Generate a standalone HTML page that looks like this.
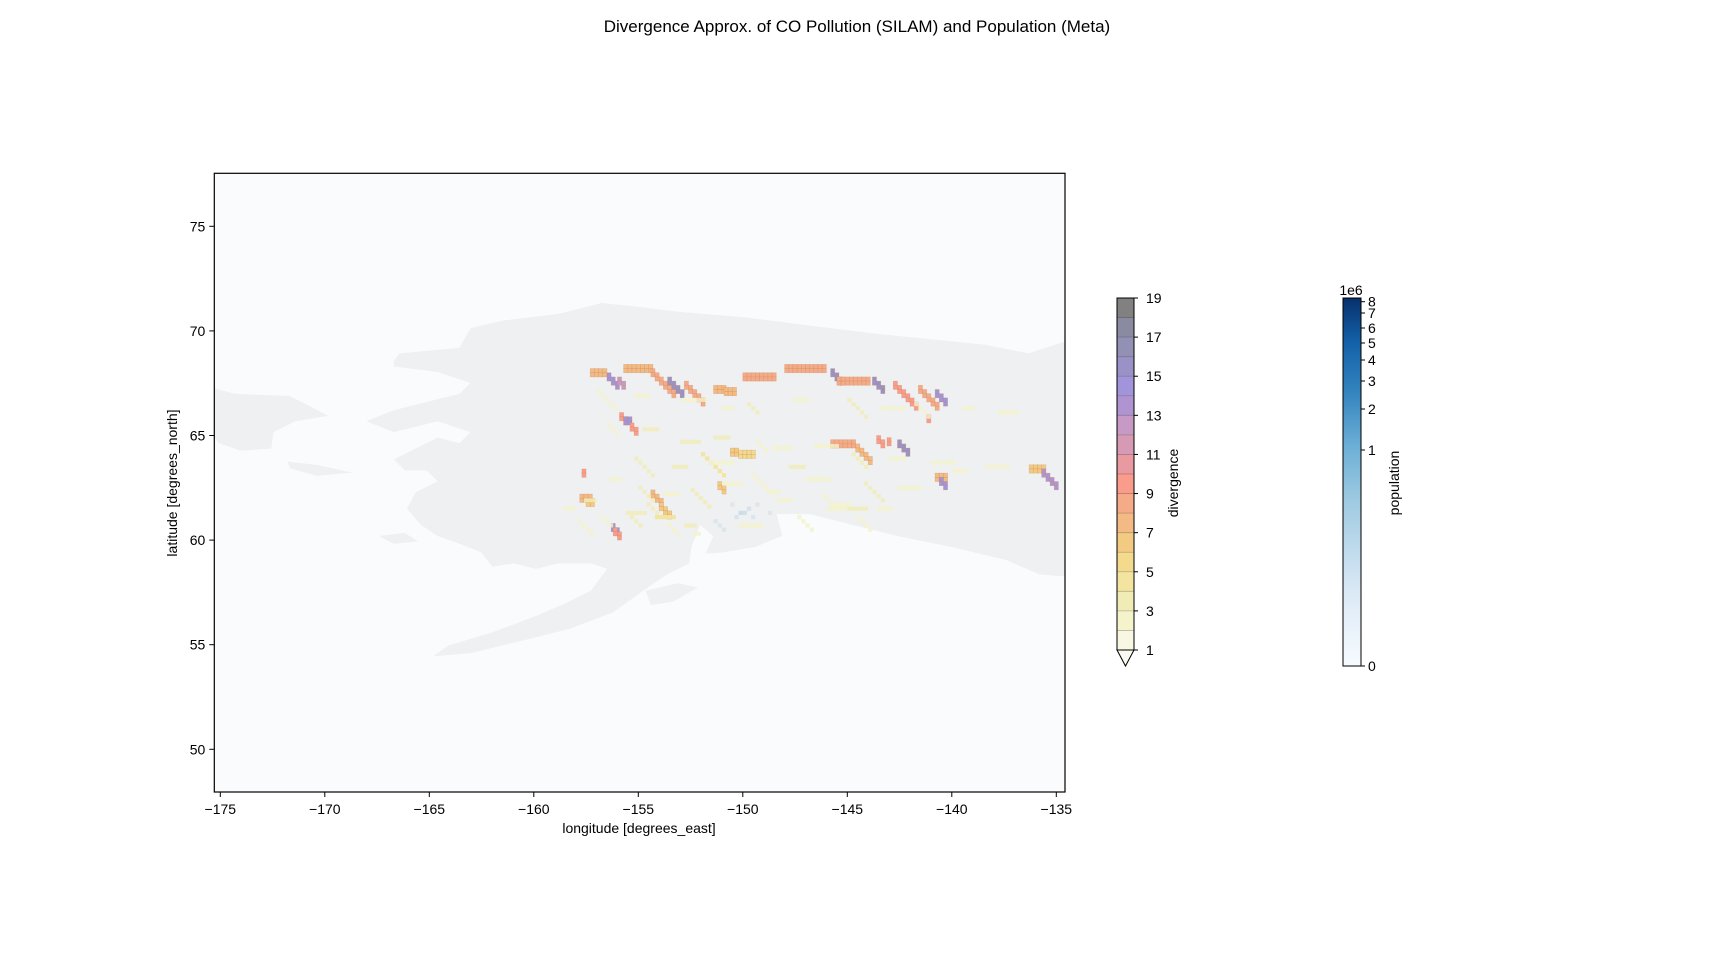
<!DOCTYPE html>
<html><head><meta charset="utf-8"><style>
html,body{margin:0;padding:0;background:#fff;}
svg{display:block;font-family:"Liberation Sans","DejaVu Sans",sans-serif;}
</style></head><body>
<svg id="fig" width="1713" height="955" viewBox="0 0 1713 955" xmlns="http://www.w3.org/2000/svg">
<text x="857" y="32" font-size="17" text-anchor="middle">Divergence Approx. of CO Pollution (SILAM) and Population (Meta)</text>
<g id="axes"></g>
<g id="cbar1"></g>
<g id="cbar2"></g>
</svg>
<script>
// ---- data ----
const xTicks = [-175,-170,-165,-160,-155,-150,-145,-140,-135];
const yTicks = [50,55,60,65,70,75];
const divLevels = [1,2,3,4,5,6,7,8,9,10,11,12,13,14,15,16,17,18,19];
const divTickLabels = [1,3,5,7,9,11,13,15,17,19];
const divColors = ["#f7f7e4","#f4f3cc","#f1ecb6","#f3e4a0","#f3da8c","#f3ca82","#f3ba84","#f5aa88","#f99c8c","#e99aa0","#d79ab4","#c69ac4","#b094d2","#a294da","#9a92c6","#9290b4","#8a8aa0","#818181"];
const popTickVals = [0,1,2,3,4,5,6,7,8];
const popTickLabels = ["0","1","2","3","4","5","6","7","8"];
// divergence cells as runs: start lon, start lat, number of cells, lat step per cell, value
const runLon = [-157.3,-156.5,-156.0,-155.7,-154.4,-153.6,-152.8,-151.4,-150.9,-150.0,-148.0,-145.8,-145.5,-143.8,-142.8,-141.6,-140.8,-155.9,-155.7,-155.4,-145.8,-144.6,-143.6,-142.6,-141.2,-140.8,-140.6,-136.3,-135.7,-157.8,-157.5,-156.3,-156.2,-154.4,-154.0,-157.7,-150.2,-150.6,-143.1,-151.2,
 -157.0,-155.2,-152.9,-151.0,-149.8,-147.6,-145.0,-143.4,-141.8,-139.5,-137.8,-156.5,-154.8,-153.0,-152.0,-151.4,-149.4,-148.6,-146.6,-144.8,-143.0,-141.0,-155.2,-153.4,-151.6,-149.6,-147.8,-147.0,-144.2,-142.6,-156.4,-155.0,-153.8,-152.5,-151.0,-148.8,-146.2,-145.0,-140.0,-138.4,-157.6,-155.6,-154.2,-152.8,-150.2,-147.4,-145.8,-143.6,-158.6,-157.9,-156.8,-155.4,-154.6,-153.6,-152.4,-148.4,-146.0,-144.6,-142.0,-139.8];
const runLat = [68.0,67.8,67.6,68.2,68.0,67.6,67.4,67.2,67.1,67.8,68.2,68.0,67.6,67.6,67.4,67.2,67.0,65.9,65.7,65.4,64.6,64.4,64.8,64.6,65.8,63.0,62.8,63.4,63.2,62.0,61.8,60.6,60.4,62.2,61.6,63.2,64.1,64.2,64.7,62.6,
 67.0,66.8,66.6,66.2,66.4,66.6,66.6,66.2,66.4,66.2,66.0,65.4,65.2,64.6,64.0,64.8,64.6,64.3,64.4,64.0,63.8,63.6,63.8,63.4,63.6,63.0,63.4,62.8,62.6,62.4,62.8,62.4,62.1,62.3,62.6,62.2,62.0,61.4,63.2,63.4,61.8,61.2,61.0,60.6,60.6,61.0,61.6,61.4,61.4,60.8,61.0,61.2,61.6,60.6,60.2,61.8,61.4,61.0,62.2,62.4];
const runN = [4,3,2,7,6,4,5,3,3,8,10,3,8,3,6,5,3,2,2,2,6,4,2,3,1,3,2,4,4,3,2,2,2,3,3,1,4,2,1,2,
 5,4,6,3,3,4,5,6,4,3,5,3,4,5,6,4,3,5,6,4,4,6,5,4,6,5,4,6,5,6,3,4,4,5,5,3,4,5,4,6,3,4,5,3,6,4,5,4,3,4,3,4,3,3,2,4,5,4,3,4];
const runDLat = [0,-0.2,-0.2,0,-0.2,-0.2,-0.2,0,0,0,0,-0.2,0,-0.2,-0.2,-0.2,-0.2,-0.2,0,-0.2,0,-0.2,-0.2,-0.2,-0.2,0,-0.2,0,-0.2,0,0,-0.2,-0.2,-0.2,-0.2,0,0,0,-0.2,-0.2,
 -0.2,0,0,0,-0.2,0,-0.2,0,-0.2,0,0,-0.2,0,0,-0.2,0,-0.2,0,0,-0.2,0,0,-0.2,0,0,-0.2,0,0,-0.2,0,0,-0.2,0,-0.2,0,0,-0.2,0,0,0,0,-0.2,0,0,0,-0.2,0,0,0,-0.2,-0.2,0,-0.2,-0.2,0,0,0,-0.2,0,0];
const runVal = [7.5,14.5,12,7.5,8.5,15.5,8,7.5,7,8,8,15.5,8.5,15.5,9,8,14.5,9.5,14.5,9.5,8,7.5,9.5,15.5,9.5,7,14,6,13,7,6.5,14.5,9.5,7,6.5,9.5,5.5,6.5,9.5,6,
 2.5,2.5,2.5,2.5,3,2.5,3,2.5,2.5,2.5,2.5,2.5,3.5,3,4.5,3,2.5,2.5,2.5,3,2.5,2.5,3.5,3,2.5,2.5,3,2.5,3,2.5,2.5,3.5,2.5,3,2.5,2.5,2.5,3,2.5,2.5,3,3,4,3.5,2.5,2.5,2.5,2.5,2.5,2.5,2.5,3,3.5,2.5,2.5,2.5,2.5,2.5];
// population cells (Anchorage area) : lon, lat, population (millions)
const popLon = [-150.2,-150.0,-149.8,-150.4,-149.6,-151.4,-151.2,-151.0,-149.4,-148.8,-150.6];
const popLat = [61.2,61.2,61.4,61.0,61.0,60.8,60.6,60.4,61.6,61.2,61.6];
const popVal = [0.3,0.2,0.15,0.12,0.1,0.1,0.08,0.08,0.08,0.06,0.06];

// ---- axis functions ----
const X = lon => 220.3 + (lon + 175) * 20.9;
const Y = lat => 226.3 - (lat - 75) * 20.92;
const NS = "http://www.w3.org/2000/svg";
function mk(tag, attrs, parent){ const e=document.createElementNS(NS,tag); for(const k in attrs) e.setAttribute(k,attrs[k]); parent.appendChild(e); return e; }
function colorFor(v){ let i=Math.floor(v-1); i=Math.max(0,Math.min(divColors.length-1,i)); return divColors[i]; }
const ax = document.getElementById('axes');
const L=214.3,R=1065,T=173.3,B=792;
const bg = mk('rect',{x:L,y:T,width:R-L,height:B-T,fill:'#fafbfd'},ax);


const s=1.094;
const land = [
 [[360,330],[365,323],[420,318],[430,300],[460,293],[510,287],[550,277],[580,280],[620,285],[680,290],[720,295],[760,300],[800,305],[850,310],[900,315],[940,323],[974,312],[974,527],[950,525],[920,512],[870,500],[820,490],[780,480],[740,470],[710,470],[715,490],[690,500],[660,505],[645,506],[652,490],[640,480],[632,500],[630,515],[610,525],[595,535],[560,560],[520,575],[480,585],[430,597],[396,600],[410,590],[450,578],[490,563],[520,550],[540,540],[555,520],[540,515],[510,515],[490,520],[470,515],[450,518],[440,505],[420,497],[400,490],[385,480],[372,465],[380,450],[400,440],[390,430],[370,430],[360,420],[380,410],[400,400],[420,405],[430,395],[400,385],[360,395],[335,385],[360,375],[400,365],[420,360],[430,350],[400,340],[360,335]],
 [[196,355],[215,360],[265,362],[300,380],[270,385],[250,395],[248,410],[220,412],[200,405],[196,400]],
 [[263,422],[290,425],[322,432],[290,435],[265,428]],
 [[346,490],[370,487],[382,495],[360,497]],
 [[590,540],[620,533],[638,537],[615,550],[595,553]]
];
land.forEach((poly,i)=>{
  const p=mk('polygon',{points:poly.map(q=>(q[0]*s)+','+(q[1]*s)).join(' '),fill:'#eff0f1'},ax);
  
  
});
const cs=0.2*20.9;
popVal.forEach((v,i)=>{
  const r=mk('rect',{x:X(popLon[i]),y:Y(popLat[i]+0.2),width:cs,height:cs,fill:'#c6d9ea','fill-opacity':Math.min(0.9,0.3+v*2)},ax);
  
  
});
runVal.forEach((v,i)=>{
  for(let k=0;k<runN[i];k++){
    const lon=runLon[i]+k*0.2, lat=runLat[i]+k*runDLat[i];
    const c=colorFor(v);
    const rows = v>5 ? 2 : 1;
    for(let j=0;j<rows;j++){
      const r=mk('rect',{x:X(lon),y:Y(lat+0.2-j*0.2),width:cs,height:cs,fill:c,stroke:v>5?'#c08050':'none','stroke-opacity':0.35,'stroke-width':0.6},ax);
      if(v<4) r.setAttribute('fill-opacity','0.8');
      
      
    }
  }
});
const frame=mk('rect',{x:L,y:T,width:R-L,height:B-T,fill:'none',stroke:'#000','stroke-width':1.2},ax);


xTicks.forEach(t=>{
  const g=mk('g',{},ax);
  
  
  mk('line',{x1:X(t),x2:X(t),y1:B,y2:B+5,stroke:'#000','stroke-width':1},g);
  mk('text',{x:X(t),y:B+22,'font-size':14,'text-anchor':'middle'},g).textContent='\u2212'+Math.abs(t);
});
yTicks.forEach(t=>{
  const g=mk('g',{},ax);
  
  
  mk('line',{x1:L-5,x2:L,y1:Y(t),y2:Y(t),stroke:'#000','stroke-width':1},g);
  mk('text',{x:L-9,y:Y(t)+5,'font-size':14,'text-anchor':'end'},g).textContent=t;
});
const xl=mk('text',{x:639,y:833,'font-size':14,'text-anchor':'middle'},ax); xl.textContent='longitude [degrees_east]';


const yl=mk('text',{x:177,y:483,'font-size':14,'text-anchor':'middle',transform:'rotate(-90 177 483)'},ax); yl.textContent='latitude [degrees_north]';



const c1=document.getElementById('cbar1');
const cL=1117,cR=1134,cT=298,cB=650;
const DY=v=>cB-(v-1)/(18)*(cB-cT);
for(let i=0;i<divLevels.length-1;i++){
  const r=mk('rect',{x:cL,y:DY(divLevels[i+1]),width:cR-cL,height:DY(divLevels[i])-DY(divLevels[i+1]),fill:divColors[i]},c1);
  
  
  if(i>0) mk('line',{x1:cL,x2:cR,y1:DY(divLevels[i]),y2:DY(divLevels[i]),stroke:'#000','stroke-opacity':0.25,'stroke-width':0.8},c1);
}
mk('polygon',{points:`${cL},${cB} ${cR},${cB} ${(cL+cR)/2},666`,fill:'#fbfbf2',stroke:'#000','stroke-width':1},c1);
mk('polyline',{points:`${cL},${cB} ${cL},${cT} ${cR},${cT} ${cR},${cB}`,fill:'none',stroke:'#000','stroke-width':1},c1);
divTickLabels.forEach(t=>{
  mk('line',{x1:cR,x2:cR+4,y1:DY(t),y2:DY(t),stroke:'#000'},c1);
  const tx=mk('text',{x:cR+12,y:DY(t)+5,'font-size':14},c1); tx.textContent=t;
  
  
});
const dl=mk('text',{x:1178,y:483,'font-size':14,'text-anchor':'middle',transform:'rotate(-90 1178 483)'},c1); dl.textContent='divergence';



const c2=document.getElementById('cbar2');
const pL=1343,pR=1361,pT=298,pB=666;
const popY=[666,450,409,381,360,343,328,313,301.7];
const defs=mk('defs',{},c2);
const lg=mk('linearGradient',{id:'blues',x1:0,y1:1,x2:0,y2:0},defs);
[["0","#f7fbff"],["0.2","#dbe9f6"],["0.45","#9ecae1"],["0.6","#6baed6"],["0.75","#3182bd"],["0.88","#1361a9"],["1","#08306b"]].forEach(q=>mk('stop',{offset:q[0],'stop-color':q[1]},lg));
const pr=mk('rect',{x:pL,y:pT,width:pR-pL,height:pB-pT,fill:'url(#blues)',stroke:'#000','stroke-width':1},c2);


popTickVals.forEach((t,i)=>{
  mk('line',{x1:pR,x2:pR+4,y1:popY[i],y2:popY[i],stroke:'#000'},c2);
  const tx=mk('text',{x:pR+7,y:popY[i]+5,'font-size':14},c2); tx.textContent=popTickLabels[i];
  
  
});
const e6=mk('text',{x:1351,y:295,'font-size':14,'text-anchor':'middle'},c2); e6.textContent='1e6';


const pl=mk('text',{x:1399,y:483,'font-size':14,'text-anchor':'middle',transform:'rotate(-90 1399 483)'},c2); pl.textContent='population';


</script>
</body></html>
